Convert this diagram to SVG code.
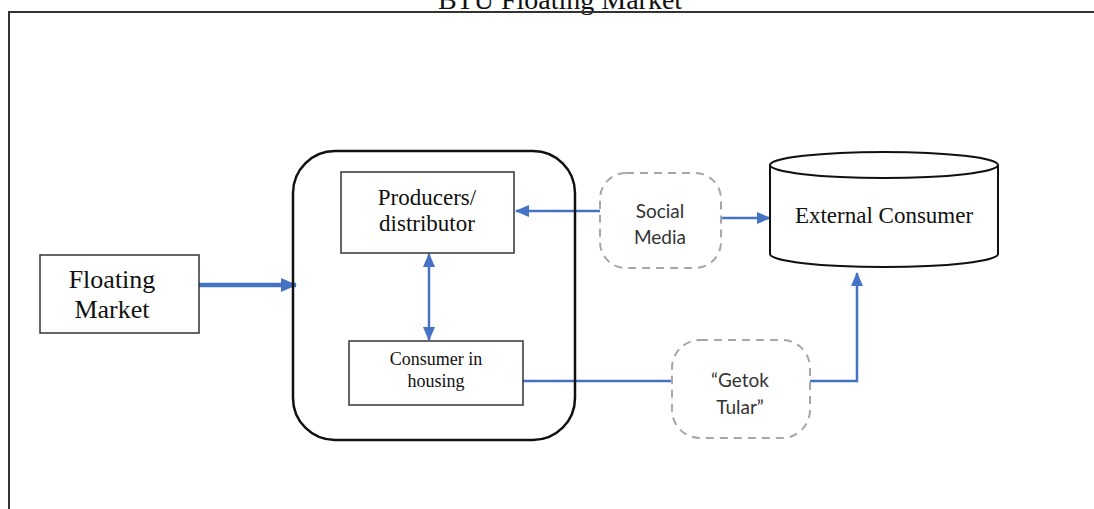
<svg xmlns="http://www.w3.org/2000/svg" width="1094" height="509" viewBox="0 0 1094 509">
  <style>
    .serif { font-family: "Liberation Serif", "Times New Roman", serif; fill: #111; text-anchor: middle; }
    .sans { font-family: Lato, "Open Sans", "Liberation Sans", sans-serif; fill: #333; text-anchor: middle; }
    .box { fill: #fff; stroke: #333; stroke-width: 1.5; }
    .dash { fill: #fff; stroke: #a6a6a6; stroke-width: 2; stroke-dasharray: 8 6; }
    .conn { fill: none; stroke: #4472c4; stroke-width: 2.5; }
  </style>
  <defs>
    <marker id="ah" markerWidth="16" markerHeight="16" refX="15" refY="8" orient="auto" markerUnits="userSpaceOnUse" viewBox="0 0 16 16">
      <path d="M0,1 L16,8 L0,15 z" fill="#4472c4"/>
    </marker>
    <marker id="ahs" markerWidth="14" markerHeight="12" refX="13" refY="6" orient="auto-start-reverse" markerUnits="userSpaceOnUse" viewBox="0 0 14 12">
      <path d="M0,0 L14,6 L0,12 z" fill="#4472c4"/>
    </marker>
  </defs>
  <rect width="1094" height="509" fill="#fff"/>

  <g id="frame">
    <text class="serif" x="560" y="9" font-size="28">BTU Floating Market</text>
    <path d="M9,509 V12 H1094" fill="none" stroke="#333" stroke-width="2"/>
  </g>

  <g id="connectors">
    <line x1="199" y1="285" x2="296" y2="285" stroke="#4472c4" stroke-width="4.5" marker-end="url(#ah)"/>
    <line x1="600" y1="211" x2="516" y2="211" class="conn" marker-end="url(#ahs)"/>
    <line x1="721" y1="218" x2="770" y2="218" class="conn" marker-end="url(#ahs)"/>
    <line x1="429" y1="254" x2="429" y2="340" class="conn" marker-start="url(#ahs)" marker-end="url(#ahs)"/>
    <line x1="523" y1="381" x2="672" y2="381" class="conn"/>
    <path d="M810,381 H857 V273" class="conn" marker-end="url(#ahs)"/>
  </g>

  <g id="floating-market">
    <rect class="box" x="40" y="255" width="159" height="78"/>
    <text class="serif" x="112" y="288" font-size="26">Floating</text>
    <text class="serif" x="112" y="318" font-size="26">Market</text>
  </g>

  <g id="btu-container">
    <rect x="293" y="151" width="282" height="289" rx="42" ry="42" fill="none" stroke="#111" stroke-width="2.5"/>
  </g>

  <g id="producers">
    <rect class="box" x="341" y="172" width="173" height="81"/>
    <text class="serif" x="427" y="205" font-size="23">Producers/</text>
    <text class="serif" x="427" y="231" font-size="23">distributor</text>
  </g>

  <g id="consumer-housing">
    <rect class="box" x="349" y="341" width="174" height="64"/>
    <text class="serif" x="436" y="365" font-size="18">Consumer in</text>
    <text class="serif" x="436" y="387" font-size="18">housing</text>
  </g>

  <g id="social-media">
    <rect class="dash" x="600" y="173" width="121" height="95" rx="26" ry="26"/>
    <text class="sans" x="660" y="218" font-size="19">Social</text>
    <text class="sans" x="660" y="244" font-size="19">Media</text>
  </g>

  <g id="getok-tular">
    <rect class="dash" x="672" y="340" width="138" height="98" rx="28" ry="28"/>
    <text class="sans" x="740" y="387" font-size="19">“Getok</text>
    <text class="sans" x="740" y="414" font-size="19">Tular”</text>
  </g>

  <g id="external-consumer">
    <path d="M770,165 V254 A114,13 0 0 0 998,254 V165" fill="#fff" stroke="#111" stroke-width="2"/>
    <ellipse cx="884" cy="165" rx="114" ry="13" fill="#fff" stroke="#111" stroke-width="2"/>
    <text class="serif" x="884" y="223" font-size="23">External Consumer</text>
  </g>
</svg>
